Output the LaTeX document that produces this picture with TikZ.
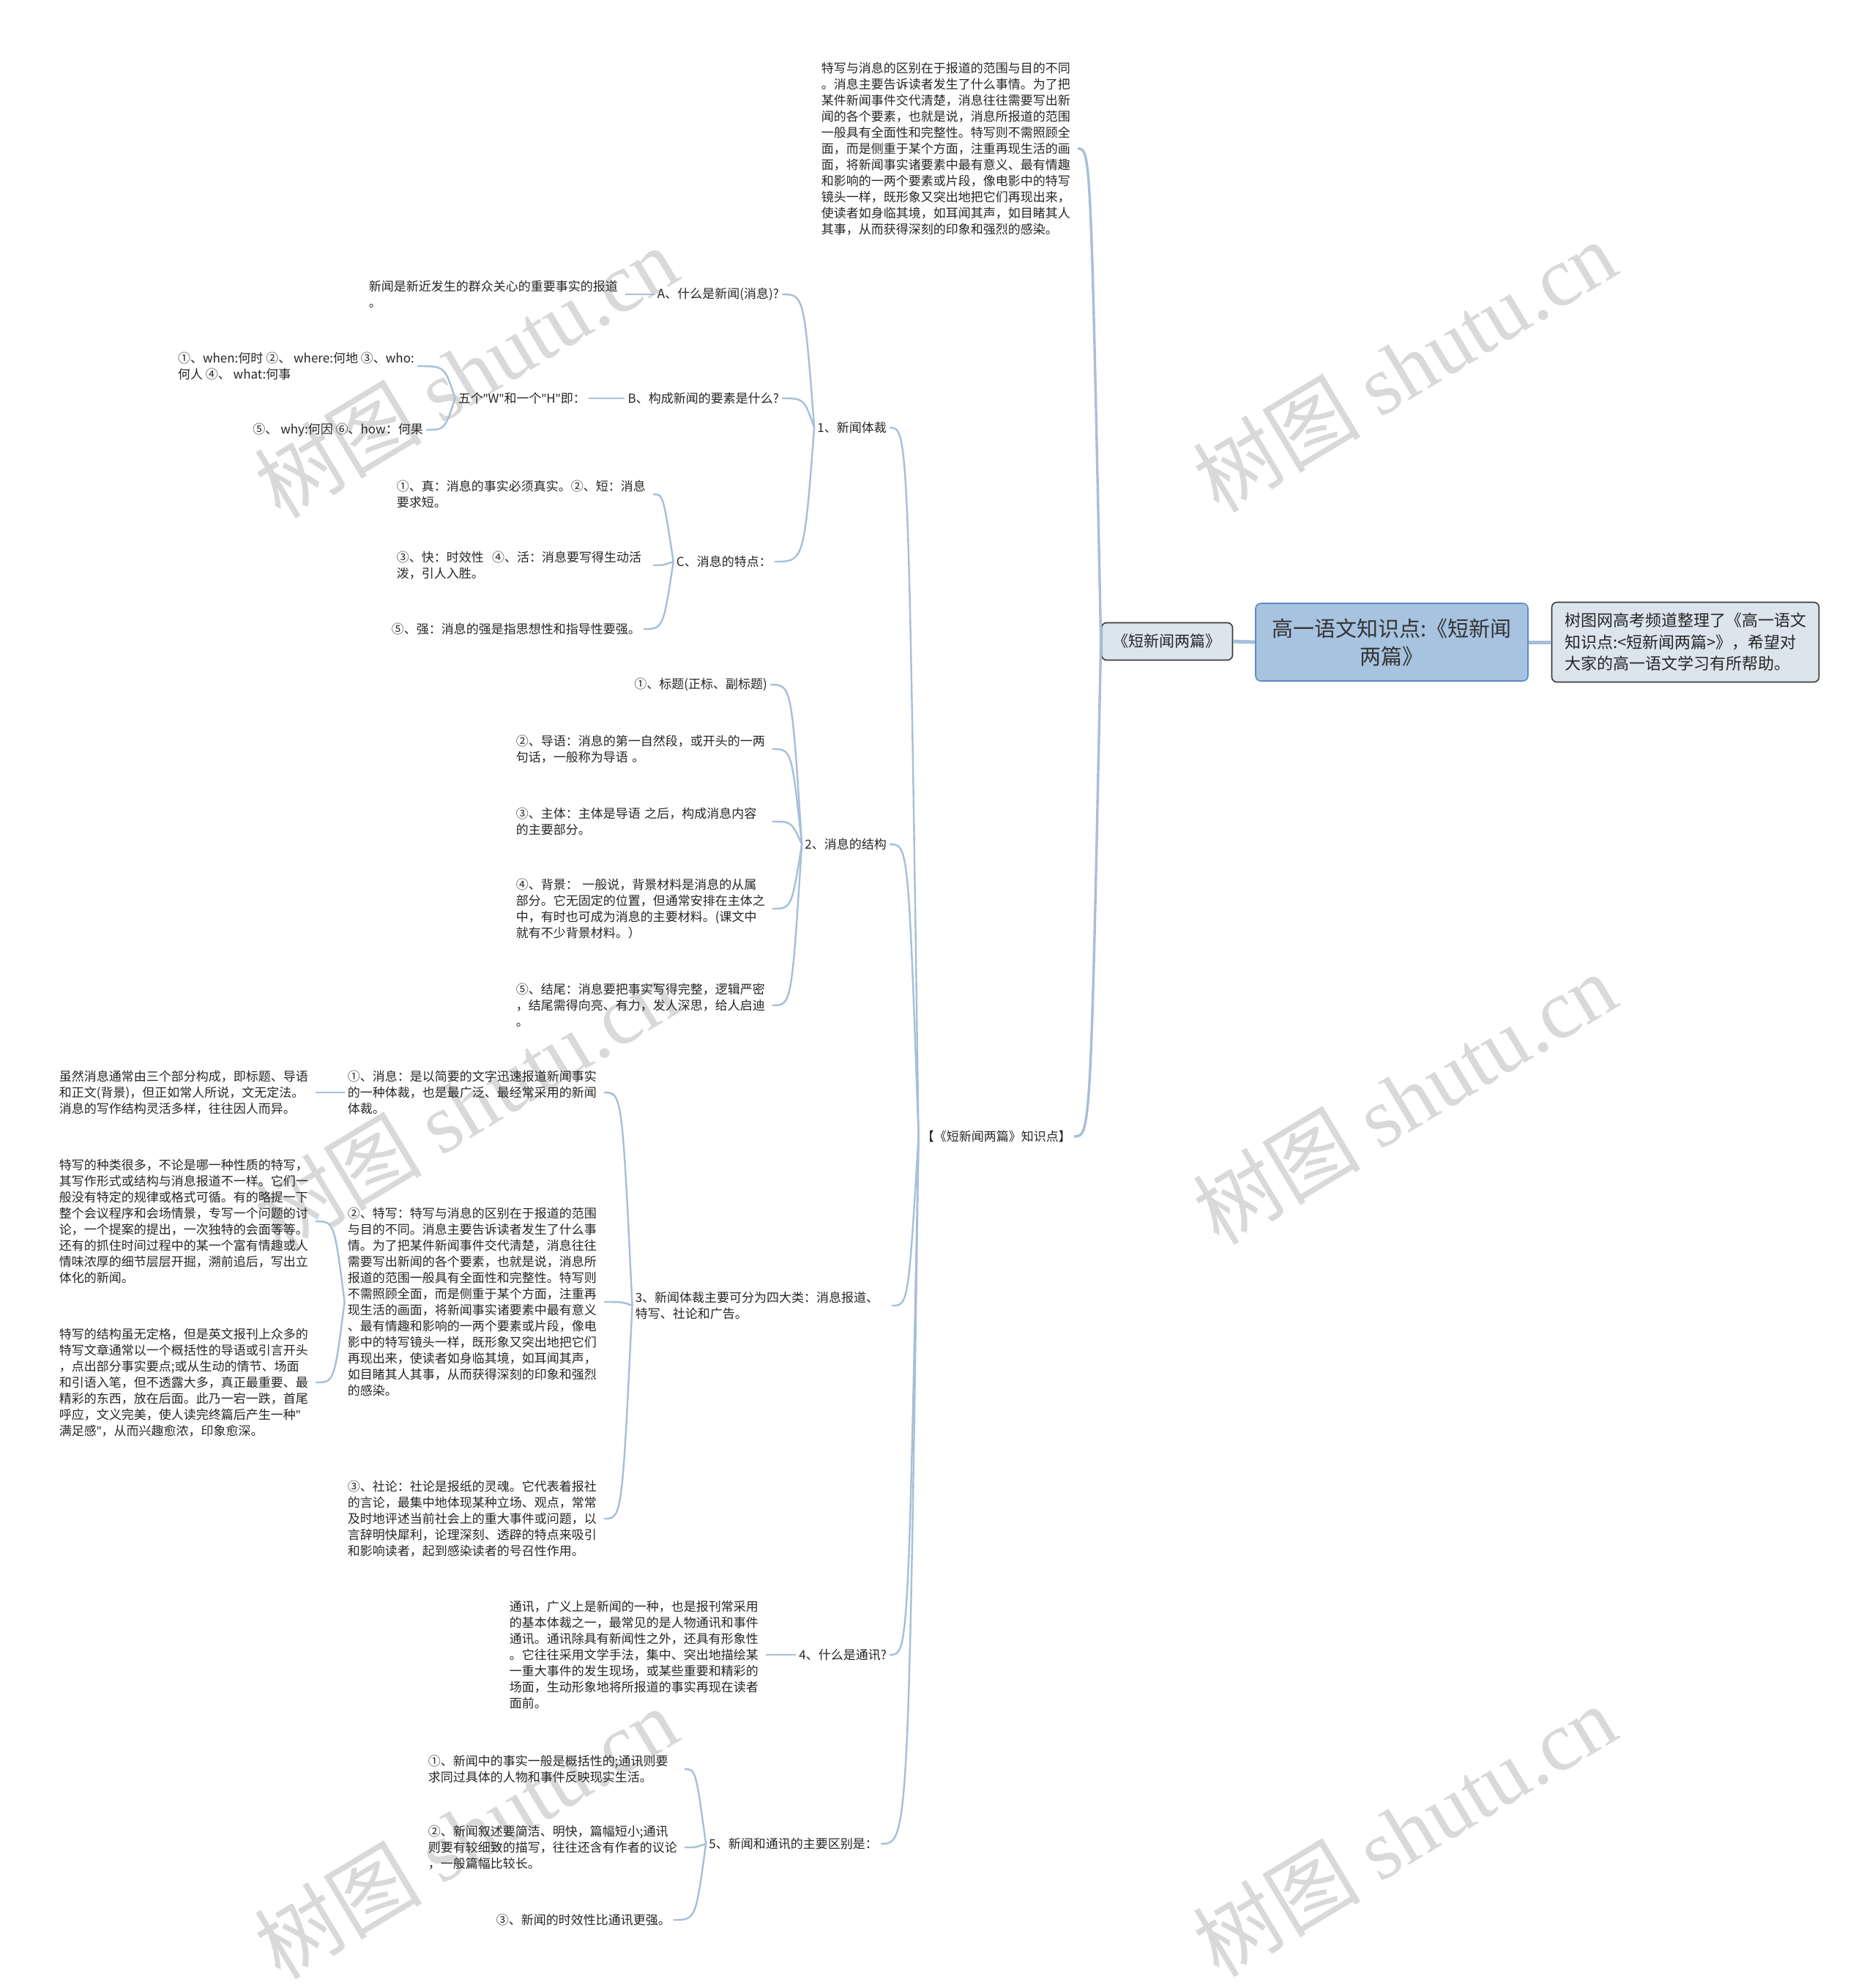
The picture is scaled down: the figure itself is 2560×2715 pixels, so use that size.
\documentclass[tikz,border=0pt]{standalone}
\usepackage{fontspec}
\setmainfont{Noto Sans CJK SC}
\newfontfamily\wmfont{Liberation Serif}
\newfontfamily\latinfont{Noto Sans}
\usepackage{xcolor}
\usetikzlibrary{calc}

\definecolor{linkblue}{HTML}{A6BFDA}
\definecolor{rootfill}{HTML}{A7C3E0}
\definecolor{rootline}{HTML}{5B8CC4}
\definecolor{boxfill}{HTML}{DCE4ED}
\definecolor{boxline}{HTML}{3A3A3A}
\definecolor{wmgray}{HTML}{D9D9D9}

\newcommand{\dq}{{\latinfont"}}

\tikzset{
  txt/.style={anchor=east,align=left,inner sep=4pt,text=black!85,font=\fontsize{17}{22}\selectfont},
  para/.style={txt,text width=346pt},
  link/.style={draw=linkblue,line width=2.4pt},
  trunk/.style={draw=linkblue,line width=3.4pt},
  bar/.style={draw=linkblue,line width=5pt},
  rootbox/.style={draw=rootline,fill=rootfill,line width=1.6pt,rounded corners=7pt,
    minimum width=372pt,minimum height=106pt,align=center,text=black!80,
    font=\fontsize{29}{38}\selectfont},
  introbox/.style={draw=boxline,fill=boxfill,line width=1.6pt,rounded corners=7pt,
    minimum width=365pt,minimum height=109pt,align=left,text=black!85,
    font=\fontsize{22}{29.5}\selectfont},
  bookbox/.style={draw=boxline,fill=boxfill,line width=1.6pt,rounded corners=7pt,
    minimum width=179pt,minimum height=51pt,text=black!85,font=\fontsize{21}{26}\selectfont},
  wm/.style={text=wmgray,rotate=31,font=\fontsize{115}{115}\selectfont}
}
% curved branch from a parent's left side to a child's right side
\newcommand{\conn}[3][link]{\draw[#1] (#2.west) .. controls ($(#2.west |- #3.east)+(-14,0)$) .. (#3.east);}

\begin{document}
\begin{tikzpicture}[x=1pt,y=-1pt]
\fill[white] (0,0) rectangle (2560,2715);
\useasboundingbox (0,0) rectangle (2560,2715);

% watermarks
\node[wm] (wm1) at (636,508) {树图 {\wmfont shutu.cn}};
\node[wm] (wm2) at (1918,500) {树图 {\wmfont shutu.cn}};
\node[wm] (wm3) at (636,1508) {树图 {\wmfont shutu.cn}};
\node[wm] (wm4) at (1918,1500) {树图 {\wmfont shutu.cn}};
\node[wm] (wm5) at (636,2503) {树图 {\wmfont shutu.cn}};
\node[wm] (wm6) at (1918,2500) {树图 {\wmfont shutu.cn}};

% centre
\node[rootbox] (root) at (1901,877) {高一语文知识点:《短新闻\\两篇》};
\node[introbox] (intro) at (2302,877) {树图网高考频道整理了《高一语文\\知识点:<短新闻两篇>》，希望对\\大家的高一语文学习有所帮助。};
\node[bookbox] (book) at (1594,876) {《短新闻两篇》};
\draw[bar] (book.east) -- (root.west);
\draw[bar] (root.east) -- (intro.west);

\node[para] (note) at (1472,203) {特写与消息的区别在于报道的范围与目的不同\\。消息主要告诉读者发生了什么事情。为了把\\某件新闻事件交代清楚，消息往往需要写出新\\闻的各个要素，也就是说，消息所报道的范围\\一般具有全面性和完整性。特写则不需照顾全\\面，而是侧重于某个方面，注重再现生活的画\\面，将新闻事实诸要素中最有意义、最有情趣\\和影响的一两个要素或片段，像电影中的特写\\镜头一样，既形象又突出地把它们再现出来，\\使读者如身临其境，如耳闻其声，如目睹其人\\其事，从而获得深刻的印象和强烈的感染。};
\node[txt] (hub) at (1467,1552) {【《短新闻两篇》知识点】};
\conn[trunk]{book}{note}
\conn[trunk]{book}{hub}

% first level
\node[txt] (kind) at (1215,584) {1、新闻体裁};
\node[txt] (structure) at (1215,1153) {2、消息的结构};
\node[para] (genres) at (1218,1783) {3、新闻体裁主要可分为四大类：消息报道、\\特写、社论和广告。};
\node[txt] (tongxun) at (1215,2260) {4、什么是通讯?};
\node[txt] (diff) at (1203,2518) {5、新闻和通讯的主要区别是：};
\conn{hub}{kind}
\conn{hub}{structure}
\conn{hub}{genres}
\conn{hub}{tongxun}
\conn{hub}{diff}

% 1
\node[txt] (whatnews) at (1068,402) {A、什么是新闻(消息)?};
\node[txt] (elements) at (1068,544) {B、构成新闻的要素是什么?};
\node[txt] (traits) at (1058,767) {C、消息的特点：};
\conn{kind}{whatnews}
\conn{kind}{elements}
\conn{kind}{traits}
\node[para] (defn) at (854,402) {新闻是新近发生的群众关心的重要事实的报道\\。};
\conn{whatnews}{defn}
\node[txt] (fivew) at (804,544) {五个\dq W\dq 和一个\dq H\dq 即：};
\conn{elements}{fivew}
\node[txt] (wlist1) at (570,500) {①、when:何时 ②、 where:何地 ③、who:\\何人 ④、 what:何事};
\node[txt] (wlist2) at (582,587) {⑤、 why:何因 ⑥、how：何果};
\conn{fivew}{wlist1}
\conn{fivew}{wlist2}
\node[para] (trait1) at (892,675) {①、真：消息的事实必须真实。②、短：消息\\要求短。};
\node[para] (trait2) at (892,772) {③、快：时效性 \ ④、活：消息要写得生动活\\泼，引人入胜。};
\node[txt] (trait3) at (879,859) {⑤、强：消息的强是指思想性和指导性要强。};
\conn{traits}{trait1}
\conn{traits}{trait2}
\conn{traits}{trait3}

% 2
\node[txt] (part1) at (1052,935) {①、标题(正标、副标题)};
\node[para] (part2) at (1055,1023) {②、导语：消息的第一自然段，或开头的一两\\句话，一般称为导语 。};
\node[para] (part3) at (1055,1122) {③、主体：主体是导语 之后，构成消息内容\\的主要部分。};
\node[para] (part4) at (1055,1241) {④、背景： 一般说，背景材料是消息的从属\\部分。它无固定的位置，但通常安排在主体之\\中，有时也可成为消息的主要材料。(课文中\\就有不少背景材料。）};
\node[para] (part5) at (1055,1373) {⑤、结尾：消息要把事实写得完整，逻辑严密\\，结尾需得向亮、有力，发人深思，给人启迪\\。};
\conn{structure}{part1}
\conn{structure}{part2}
\conn{structure}{part3}
\conn{structure}{part4}
\conn{structure}{part5}

% 3
\node[para] (xiaoxi) at (825,1492) {①、消息：是以简要的文字迅速报道新闻事实\\的一种体裁，也是最广泛、最经常采用的新闻\\体裁。};
\node[para] (texie) at (825,1778) {②、特写：特写与消息的区别在于报道的范围\\与目的不同。消息主要告诉读者发生了什么事\\情。为了把某件新闻事件交代清楚，消息往往\\需要写出新闻的各个要素，也就是说，消息所\\报道的范围一般具有全面性和完整性。特写则\\不需照顾全面，而是侧重于某个方面，注重再\\现生活的画面，将新闻事实诸要素中最有意义\\、最有情趣和影响的一两个要素或片段，像电\\影中的特写镜头一样，既形象又突出地把它们\\再现出来，使读者如身临其境，如耳闻其声，\\如目睹其人其事，从而获得深刻的印象和强烈\\的感染。};
\node[para] (shelun) at (825,2074) {③、社论：社论是报纸的灵魂。它代表着报社\\的言论，最集中地体现某种立场、观点，常常\\及时地评述当前社会上的重大事件或问题，以\\言辞明快犀利，论理深刻、透辟的特点来吸引\\和影响读者，起到感染读者的号召性作用。};
\conn{genres}{xiaoxi}
\conn{genres}{texie}
\conn{genres}{shelun}
\node[para] (xiaoxinote) at (431,1492) {虽然消息通常由三个部分构成，即标题、导语\\和正文(背景)，但正如常人所说，文无定法。\\消息的写作结构灵活多样，往往因人而异。};
\conn{xiaoxi}{xiaoxinote}
\node[para] (texienote1) at (431,1668) {特写的种类很多，不论是哪一种性质的特写，\\其写作形式或结构与消息报道不一样。它们一\\般没有特定的规律或格式可循。有的略提一下\\整个会议程序和会场情景，专写一个问题的讨\\论，一个提案的提出，一次独特的会面等等。\\还有的抓住时间过程中的某一个富有情趣或人\\情味浓厚的细节层层开掘，溯前追后，写出立\\体化的新闻。};
\node[para] (texienote2) at (431,1888) {特写的结构虽无定格，但是英文报刊上众多的\\特写文章通常以一个概括性的导语或引言开头\\，点出部分事实要点;或从生动的情节、场面\\和引语入笔，但不透露大多，真正最重要、最\\精彩的东西，放在后面。此乃一宕一跌，首尾\\呼应，文义完美，使人读完终篇后产生一种\dq\\满足感\dq ，从而兴趣愈浓，印象愈深。};
\conn{texie}{texienote1}
\conn{texie}{texienote2}

% 4
\node[para] (txdef) at (1046,2260) {通讯，广义上是新闻的一种，也是报刊常采用\\的基本体裁之一，最常见的是人物通讯和事件\\通讯。通讯除具有新闻性之外，还具有形象性\\。它往往采用文学手法，集中、突出地描绘某\\一重大事件的发生现场，或某些重要和精彩的\\场面，生动形象地将所报道的事实再现在读者\\面前。};
\conn{tongxun}{txdef}

% 5
\node[para] (diff1) at (935,2416) {①、新闻中的事实一般是概括性的;通讯则要\\求同过具体的人物和事件反映现实生活。};
\node[para] (diff2) at (935,2523) {②、新闻叙述要简洁、明快，篇幅短小;通讯\\则要有较细致的描写，往往还含有作者的议论\\，一般篇幅比较长。};
\node[txt] (diff3) at (920,2622) {③、新闻的时效性比通讯更强。};
\conn{diff}{diff1}
\conn{diff}{diff2}
\conn{diff}{diff3}
\end{tikzpicture}
\end{document}
